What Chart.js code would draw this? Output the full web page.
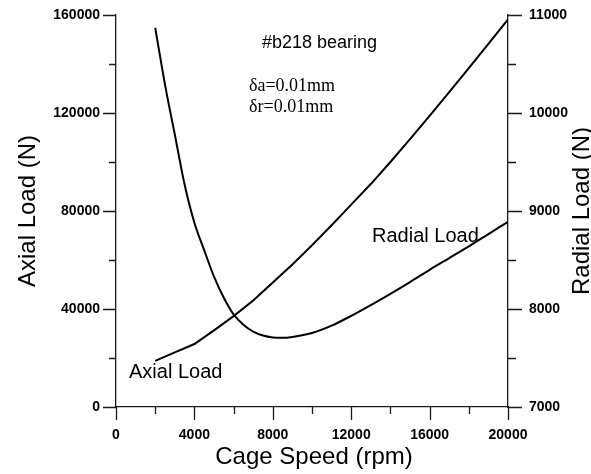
<!DOCTYPE html>
<html>
<head>
<meta charset="utf-8">
<script src="https://cdn.jsdelivr.net/npm/chart.js@4.4.1/dist/chart.umd.min.js"></script>
<style>
  html, body { margin: 0; padding: 0; background: #ffffff; }
  #wrap { width: 591px; height: 474px; }
</style>
</head>
<body>
<div id="wrap"><canvas id="chart" width="591" height="474"></canvas></div>
<script>
// Cage speed samples (rpm) and the loads computed at each speed
const axialSpeeds = [2000, 3000, 4000, 5000, 6000, 7000, 8000, 9000, 10000, 11000,
                     12000, 13000, 14000, 15000, 16000, 17000, 18000, 19000, 20000];
const axialLoad   = [18800, 22300, 25700, 31300, 37100, 43500, 50800, 58200, 66000, 74200,
                     82600, 91000, 100000, 109300, 118800, 128500, 138300, 148200, 158200];

const radialSpeeds = [2000, 2500, 3000, 3500, 4000, 4500, 5000, 5500, 6000, 6500, 7000, 7500,
                      8000, 8500, 9000, 10000, 11000, 12000, 13000, 14000, 15000, 16000,
                      17000, 18000, 19000, 20000];
const radialLoad   = [10870, 10290, 9780, 9270, 8880, 8600, 8330, 8115, 7945, 7840, 7770, 7730,
                      7710, 7706, 7715, 7755, 7830, 7930, 8040, 8155, 8275, 8400,
                      8520, 8640, 8765, 8890];

// Axis ranges and tick steps
const speedTicks  = [0, 4000, 8000, 12000, 16000, 20000];
const axialTicks  = [0, 40000, 80000, 120000, 160000];
const radialTicks = [7000, 8000, 9000, 10000, 11000];

const axisTitles = { x: 'Cage Speed (rpm)', y: 'Axial Load (N)', y1: 'Radial Load (N)' };
const notes = {
  bearing: '#b218 bearing',
  deltaA: 'δa=0.01mm',
  deltaR: 'δr=0.01mm',
  axialLabel: 'Axial Load',
  radialLabel: 'Radial Load'
};

const INK = '#000000';
const AXIS = '#1a1a1a';

// Draws major and minor tick marks outward from each axis line
const tickMarks = {
  id: 'tickMarks',
  afterDraw(chart) {
    const ctx = chart.ctx;
    const { x, y, y1 } = chart.scales;
    ctx.save();
    ctx.strokeStyle = AXIS;
    ctx.lineWidth = 1.3;
    ctx.beginPath();
    for (let v = 0; v <= 20000; v += 2000) {
      const px = Math.round(x.getPixelForValue(v)) + 0.5;
      const len = (v % 4000 === 0) ? 13 : 7;
      ctx.moveTo(px, x.top);
      ctx.lineTo(px, x.top + len);
    }
    for (let v = 0; v <= 160000; v += 20000) {
      const py = Math.round(y.getPixelForValue(v)) + 0.5;
      const len = (v % 40000 === 0) ? 13 : 7;
      ctx.moveTo(y.right, py);
      ctx.lineTo(y.right - len, py);
    }
    for (let v = 7000; v <= 11000; v += 500) {
      const py = Math.round(y1.getPixelForValue(v)) + 0.5;
      const len = (v % 1000 === 0) ? 14 : 8;
      ctx.moveTo(y1.left, py);
      ctx.lineTo(y1.left + len, py);
    }
    ctx.stroke();
    ctx.restore();
  }
};

// Axis titles and in-plot notes
const captions = {
  id: 'captions',
  afterDraw(chart) {
    const ctx = chart.ctx;
    const area = chart.chartArea;
    ctx.save();
    ctx.fillStyle = INK;

    ctx.font = '24px Arial, "Liberation Sans", sans-serif';
    ctx.textAlign = 'center';
    ctx.textBaseline = 'alphabetic';
    ctx.fillText(axisTitles.x, (area.left + area.right) / 2 + 2, 464);

    const midY = (area.top + area.bottom) / 2;
    ctx.save();
    ctx.translate(35, midY);
    ctx.rotate(-Math.PI / 2);
    ctx.fillText(axisTitles.y, 0, 0);
    ctx.restore();

    ctx.save();
    ctx.translate(589, midY);
    ctx.rotate(-Math.PI / 2);
    ctx.fillText(axisTitles.y1, 0, 0);
    ctx.restore();

    ctx.textAlign = 'left';
    ctx.font = '18px Arial, "Liberation Sans", sans-serif';
    ctx.fillText(notes.bearing, 262, 48);

    ctx.font = '18px "Times New Roman", "Liberation Serif", serif';
    ctx.fillText(notes.deltaA, 249, 91);
    ctx.fillText(notes.deltaR, 249, 112);

    ctx.font = '20px Arial, "Liberation Sans", sans-serif';
    ctx.fillText(notes.axialLabel, 129, 378);
    ctx.fillText(notes.radialLabel, 372, 242);
    ctx.restore();
  }
};

const tickFont = { family: 'Arial, "Liberation Sans", sans-serif', size: 14, weight: 'bold' };

// Fixed axis boxes so the plot area spans 116..508 x 15..407
const fixWidth = w => s => { s.width = w; s.paddingTop = 0; s.paddingBottom = 0; };
const fixHeight = h => s => { s.height = h; s.paddingLeft = 0; s.paddingRight = 0; };

new Chart(document.getElementById('chart'), {
  type: 'line',
  data: {
    datasets: [
      {
        label: 'Axial Load',
        data: axialSpeeds.map((s, i) => ({ x: s, y: axialLoad[i] })),
        yAxisID: 'y',
        borderColor: INK,
        borderWidth: 2,
        pointRadius: 0,
        tension: 0,
        fill: false
      },
      {
        label: 'Radial Load',
        data: radialSpeeds.map((s, i) => ({ x: s, y: radialLoad[i] })),
        yAxisID: 'y1',
        borderColor: INK,
        borderWidth: 2,
        pointRadius: 0,
        cubicInterpolationMode: 'monotone',
        fill: false
      }
    ]
  },
  options: {
    responsive: false,
    animation: false,
    devicePixelRatio: 1,
    layout: { padding: { top: 15, left: 0, right: 0, bottom: 0 } },
    plugins: { legend: { display: false }, tooltip: { enabled: false } },
    scales: {
      x: {
        type: 'linear',
        position: 'bottom',
        min: speedTicks[0],
        max: speedTicks[speedTicks.length - 1],
        afterBuildTicks: s => { s.ticks = speedTicks.map(v => ({ value: v })); },
        grid: { display: false, drawTicks: false },
        border: { display: true, color: AXIS, width: 1.3 },
        ticks: { color: INK, font: tickFont, padding: 20, maxRotation: 0, callback: v => String(v) },
        afterFit: fixHeight(67)
      },
      y: {
        type: 'linear',
        position: 'left',
        min: axialTicks[0],
        max: axialTicks[axialTicks.length - 1],
        afterBuildTicks: s => { s.ticks = axialTicks.map(v => ({ value: v })); },
        grid: { display: false, drawTicks: false },
        border: { display: true, color: AXIS, width: 1.3 },
        ticks: { color: INK, font: tickFont, padding: 16, callback: v => String(v) },
        afterFit: fixWidth(116)
      },
      y1: {
        type: 'linear',
        position: 'right',
        min: radialTicks[0],
        max: radialTicks[radialTicks.length - 1],
        afterBuildTicks: s => { s.ticks = radialTicks.map(v => ({ value: v })); },
        grid: { display: false, drawTicks: false },
        border: { display: true, color: AXIS, width: 1.3 },
        ticks: { color: INK, font: tickFont, padding: 21, callback: v => String(v) },
        afterFit: fixWidth(83)
      }
    }
  },
  plugins: [tickMarks, captions]
});
</script>
</body>
</html>
